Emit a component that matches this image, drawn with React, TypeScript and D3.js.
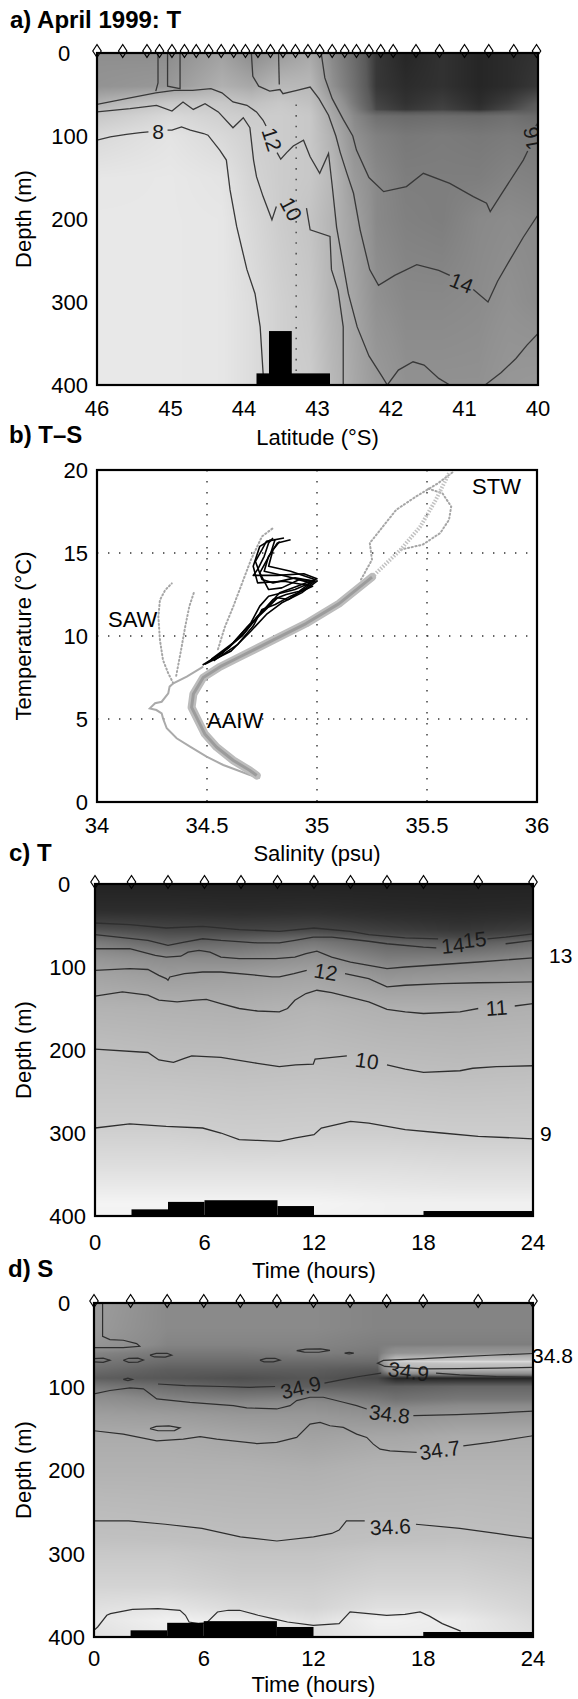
import React, { useMemo } from 'react';
import * as d3 from 'd3';

const FONT = "'Liberation Sans', Arial, Helvetica, sans-serif";

// ================= Panel a: April 1999 T section =================
const latTicksA = [46, 45, 44, 43, 42, 41, 40];
const depthTicks = [0, 100, 200, 300, 400];
const stationLatsA = [46.0, 45.65, 45.32, 45.15, 44.98, 44.81, 44.65, 44.48, 44.31, 44.14, 43.98, 43.81, 43.64, 43.47, 43.3, 43.13, 42.97, 42.8, 42.63, 42.47, 42.3, 42.14, 41.97, 41.66, 41.34, 41.0, 40.67, 40.33, 40.02];
const latNodesA = [46, 45, 44.3, 43.9, 43.5, 43.1, 42.8, 42.5, 42.2, 41.8, 41.3, 40.8, 40.4, 40.0];
const depthNodesA = [0, 40, 60, 68, 76, 100, 150, 200, 300, 400];
const tempGridA = [
  [14.1, 14.2, 13.1, 14.3, 13.5, 12.7, 14.3, 15.4, 16.6, 16.9, 16.7, 16.9, 16.8, 16.7],
  [13.9, 13.6, 12.2, 12.7, 11.7, 11.7, 14.0, 15.2, 16.6, 16.8, 16.7, 16.9, 16.8, 16.6],
  [12.2, 10.6, 10.6, 11.1, 10.6, 11.1, 13.1, 14.9, 16.4, 16.7, 16.5, 16.8, 16.5, 16.0],
  [11.3, 10.0, 10.3, 10.7, 10.4, 10.8, 12.9, 14.6, 16.3, 16.6, 16.4, 16.7, 16.3, 15.8],
  [10.6, 9.4, 10.0, 10.3, 10.3, 10.6, 12.7, 14.3, 15.2, 15.4, 15.3, 15.4, 15.2, 15.4],
  [9.4, 8.6, 9.4, 10.0, 10.3, 10.6, 12.2, 14.0, 14.6, 14.9, 14.8, 14.9, 14.8, 14.9],
  [8.4, 8.3, 8.6, 9.7, 10.3, 10.6, 11.7, 13.5, 14.3, 14.7, 14.7, 14.7, 14.5, 14.6],
  [8.3, 8.3, 8.4, 9.4, 10.3, 10.9, 12.0, 13.1, 14.3, 14.6, 14.7, 14.3, 14.2, 14.3],
  [8.3, 8.3, 8.4, 9.1, 10.0, 10.6, 12.0, 12.9, 14.0, 14.3, 14.3, 14.2, 14.0, 14.2],
  [8.3, 8.3, 8.4, 9.1, 10.0, 10.3, 11.7, 12.7, 13.5, 14.0, 14.0, 14.0, 13.7, 13.6],
];
const tempLevelsA = [8, 10, 12, 14, 16, 17];
const grayLevelsA = [236, 208, 180, 145, 90, 32];

const contourA8a = [[46.0, 105], [45.82, 101], [45.6, 98], [45.41, 96], [45.3, 95]];
const contourA8b = [[45.04, 93], [44.98, 93], [44.85, 89], [44.73, 93], [44.55, 97], [44.49, 99], [44.33, 117], [44.24, 129], [44.19, 165], [44.1, 209], [43.96, 261], [43.85, 290], [43.78, 330], [43.74, 386], [43.73, 400]];
const contourA10a = [[46.0, 71], [45.55, 67], [45.19, 63], [44.98, 70], [44.83, 59], [44.69, 68], [44.53, 61], [44.35, 71], [44.15, 90], [44.01, 78], [43.92, 90], [43.87, 129], [43.83, 149], [43.74, 173], [43.62, 201], [43.56, 185]];
const contourA10b = [[43.15, 187], [43.1, 213], [42.83, 221], [42.81, 261], [42.72, 286], [42.65, 330], [42.65, 400]];
const contourA12a = [[46.0, 62], [45.55, 54], [45.2, 48], [44.95, 45], [44.7, 45], [44.45, 43], [44.3, 48], [44.15, 59], [43.96, 63], [43.83, 71], [43.74, 81], [43.7, 88]];
const contourA12b = [[43.55, 120], [43.5, 128], [43.42, 120], [43.33, 112], [43.19, 105], [43.1, 125], [42.97, 145], [42.85, 121], [42.8, 160], [42.74, 210], [42.66, 250], [42.58, 290], [42.46, 330], [42.3, 365], [42.12, 390], [42.05, 400]];
const contourA14a = [[43.9, 0], [43.88, 28], [43.8, 40], [43.65, 46], [43.51, 44], [43.47, 49], [43.28, 45], [43.1, 41], [42.98, 55], [42.85, 75], [42.75, 100], [42.69, 120], [42.6, 145], [42.51, 169], [42.42, 213], [42.29, 261], [42.17, 280], [41.95, 268], [41.65, 255], [41.35, 262], [41.2, 268]];
const contourA14b = [[40.88, 285], [40.68, 300], [40.55, 275], [40.38, 249], [40.2, 222], [40.0, 195]];
const contourA16a = [[42.95, 0], [42.9, 30], [42.8, 55], [42.65, 80], [42.52, 100], [42.47, 117], [42.3, 150], [42.1, 167], [41.79, 161], [41.56, 145], [41.2, 157], [40.88, 173], [40.7, 181], [40.65, 191], [40.52, 173], [40.2, 129], [40.14, 118]];
const contourA16b = [[40.03, 88], [40.0, 84]];
const contourAFinger = [[45.17, 0], [45.17, 36], [45.2, 46]];
const contourAU = [[45.04, 0], [45.04, 40], [44.87, 43], [44.87, 0]];
const contourATongue = [[43.53, 0], [43.52, 38]];
const contourABump1 = [[42.05, 400], [41.9, 382], [41.7, 372], [41.55, 376], [41.35, 392], [41.2, 400]];
const contourABump2 = [[40.72, 400], [40.5, 385], [40.3, 368], [40.15, 352], [40.0, 338]];
const contourLabelsA = [
  { text: '8', lat: 45.17, depth: 95, rot: 0 },
  { text: '10', lat: 43.36, depth: 188, rot: 62 },
  { text: '12', lat: 43.62, depth: 104, rot: 72 },
  { text: '14', lat: 41.04, depth: 277, rot: 22 },
  { text: '16', lat: 40.08, depth: 103, rot: -100 },
];
const bathyA = [
  { from: 43.83, to: 42.83, depth: 386 },
  { from: 43.66, to: 43.35, depth: 335 },
];
const dottedLatA = 43.29;
const dottedDepthA = [62, 385];

// ================= Panel b: T-S =================
const salTicks = [34, 34.5, 35, 35.5, 36];
const tempTicks = [0, 5, 10, 15, 20];
const salGrid = [34.5, 35, 35.5];
const tempGrid = [5, 10, 15];
const tsMainDense = [[34.726, 1.6], [34.695, 1.9], [34.62, 2.5], [34.544, 3.3], [34.49, 4.1], [34.46, 4.9], [34.43, 5.7], [34.438, 6.5], [34.483, 7.5], [34.56, 8.15], [34.65, 8.75], [34.8, 9.75], [34.95, 10.75], [35.1, 11.95], [35.25, 13.55]];
const tsMainUpper = [[35.25, 13.55], [35.38, 15.2], [35.47, 16.6], [35.54, 18.2], [35.6, 19.8]];
const tsSawLoop = [[34.726, 1.6], [34.74, 1.45], [34.695, 1.63], [34.635, 1.93], [34.574, 2.23], [34.498, 2.73], [34.423, 3.33], [34.362, 3.84], [34.317, 4.44], [34.3, 5.04], [34.294, 5.34], [34.27, 5.54], [34.24, 5.64], [34.264, 5.95], [34.294, 6.04], [34.324, 6.55], [34.33, 6.95], [34.347, 7.15], [34.408, 7.55], [34.483, 8.15]];
const tsSawScatter1 = [[34.347, 7.15], [34.324, 7.75], [34.3, 8.55], [34.286, 9.76], [34.279, 11.16], [34.286, 12.17], [34.31, 12.77], [34.34, 13.17]];
const tsSawScatter2 = [[34.36, 7.6], [34.38, 9.0], [34.4, 10.5], [34.42, 11.8], [34.44, 12.6]];
const tsMidScatter = [[34.55, 9.2], [34.58, 10.5], [34.62, 11.8], [34.66, 13.2], [34.7, 14.6], [34.75, 16.0], [34.8, 16.5]];
const tsStwLeft = [[35.2, 13.4], [35.25, 14.6], [35.24, 15.6], [35.3, 16.6], [35.36, 17.6], [35.45, 18.4], [35.55, 19.2], [35.62, 19.9]];
const tsStwRight = [[35.38, 15.2], [35.48, 15.5], [35.56, 16.2], [35.6, 17.0], [35.61, 17.8], [35.57, 18.6], [35.5, 18.9]];
const tsBlack1 = [[34.48, 8.25], [34.57, 8.96], [34.67, 10.2], [34.73, 11.2], [34.79, 12.0], [34.83, 12.6], [34.91, 13.0], [35.0, 13.45], [34.94, 13.75], [34.82, 13.65], [34.71, 13.65], [34.73, 14.0], [34.76, 14.8], [34.78, 15.6], [34.8, 15.9]];
const tsBlack2 = [[34.5, 8.4], [34.6, 9.3], [34.68, 10.5], [34.76, 11.5], [34.82, 12.3], [34.87, 12.2], [34.95, 12.9], [34.99, 13.3], [34.9, 13.5], [34.8, 13.2], [34.75, 13.4], [34.72, 14.5], [34.75, 15.2], [34.77, 15.7], [34.85, 15.9]];
const tsBlack3 = [[34.52, 8.6], [34.62, 9.6], [34.7, 10.8], [34.74, 11.8], [34.78, 12.4], [34.9, 12.8], [34.97, 13.2], [34.86, 13.6], [34.76, 13.9], [34.78, 14.8], [34.82, 15.6], [34.88, 15.8]];
const tsBlack4 = [[34.55, 8.8], [34.66, 10.0], [34.72, 11.0], [34.8, 12.2], [34.86, 12.5], [34.92, 12.7], [34.99, 13.4], [34.88, 13.9], [34.78, 14.2], [34.8, 15.2], [34.83, 15.7]];
const tsBlack5 = [[34.49, 8.3], [34.61, 9.1], [34.7, 10.3], [34.77, 11.3], [34.84, 12.0], [34.93, 12.6], [35.0, 13.3], [34.92, 13.4], [34.84, 12.9], [34.78, 12.8], [34.74, 13.8], [34.79, 15.0], [34.81, 15.85]];
const tsBlack6 = [[34.53, 8.5], [34.64, 9.5], [34.71, 10.6], [34.75, 11.6], [34.81, 11.9], [34.88, 12.4], [34.98, 13.0], [34.85, 13.3], [34.73, 13.2], [34.71, 14.2], [34.74, 15.4], [34.79, 15.8]];
const waterMassLabels = [
  { text: 'STW', s: 35.705, t: 18.55 },
  { text: 'SAW', s: 34.05, t: 10.54 },
  { text: 'AAIW', s: 34.5, t: 4.46 },
];

// ================= Panels c, d: 24-h time series =================
const timeTicks = [0, 6, 12, 18, 24];
const castTimes = [0, 2, 4, 6, 8, 10, 12, 14, 16, 18, 21, 24];
const bathyCD = [
  { from: 2, to: 4, depth: 392 },
  { from: 4, to: 6, depth: 383 },
  { from: 6, to: 10, depth: 381 },
  { from: 10, to: 12, depth: 388 },
  { from: 18, to: 24, depth: 394 },
];

const timeNodesC = [0, 4, 8, 12, 16, 20, 24];
const depthNodesC = [0, 30, 55, 70, 90, 110, 150, 200, 250, 300, 340, 365, 385, 400];
const tempGridC = [
  [17, 17, 17, 17, 17, 17, 17],
  [16.3, 16.3, 16.4, 16.3, 16.5, 16.6, 16.5],
  [14.7, 15.0, 15.1, 15.0, 15.4, 15.7, 15.4],
  [13.5, 14.2, 14.0, 13.6, 14.2, 14.5, 14.0],
  [12.5, 12.9, 13.0, 12.6, 13.4, 13.3, 13.0],
  [11.8, 12.2, 12.0, 11.8, 12.6, 12.4, 12.3],
  [10.8, 10.9, 11.0, 10.7, 11.0, 11.1, 11.0],
  [10.0, 10.2, 10.25, 10.1, 10.3, 10.4, 10.3],
  [9.5, 9.5, 9.6, 9.55, 9.6, 9.7, 9.65],
  [8.95, 8.95, 9.05, 9.0, 9.0, 9.05, 9.05],
  [8.6, 8.6, 8.6, 8.6, 8.6, 8.65, 8.65],
  [8.3, 8.3, 8.3, 8.3, 8.35, 8.4, 8.4],
  [8.0, 8.0, 8.0, 8.0, 8.1, 8.1, 8.1],
  [8.05, 8.05, 8.05, 8.05, 8.1, 8.1, 8.1],
];
const tempLevelsC = [8, 8.5, 9, 10, 11, 12, 13, 14, 15, 16, 17];
const grayLevelsC = [244, 226, 206, 190, 176, 160, 138, 106, 70, 48, 34];

const contourC15a = [[0, 47], [1.9, 49], [3.9, 53], [5.9, 51], [7.9, 55], [10.1, 57], [12, 53], [14, 57], [15, 61], [17, 65], [18.8, 66]];
const contourC15b = [[21.5, 66], [22.5, 64], [24, 60]];
const contourC14a = [[0, 61], [2.9, 68], [4.0, 74], [4.9, 70], [5.9, 66], [6.9, 68], [8.9, 71], [10.1, 71], [10.95, 68], [11.96, 64], [12.97, 64], [14.99, 69], [16, 72], [18, 76], [18.7, 77]];
const contourC14b = [[22.5, 72], [24, 68]];
const contourC13 = [[0, 78], [1.9, 78], [3.3, 86], [3.9, 88], [4.7, 87], [5.1, 82], [5.7, 80], [6.3, 82], [6.9, 88], [7.9, 90], [9.9, 90], [10.95, 88], [11.56, 84], [12.16, 81], [12.97, 88], [14, 94], [15, 98], [16, 102], [17, 100], [19, 97], [21, 94], [24, 89]];
const contourC12a = [[0, 104], [1.9, 102], [2.9, 103], [3.5, 110], [3.9, 114], [4.0, 116], [4.1, 112], [4.9, 108], [5.9, 106], [6.9, 106], [8.9, 110], [9.7, 112], [10.1, 112], [10.9, 108], [11.6, 104]];
const contourC12b = [[13.7, 108], [15, 114], [16, 124], [17, 122], [19, 120], [21, 119], [24, 118]];
const contourC11a = [[0, 135], [1.5, 130], [2.9, 134], [3.5, 140], [4.5, 142], [5.5, 140], [6.1, 139], [6.9, 144], [7.9, 150], [8.9, 153], [10.1, 154], [10.55, 150], [10.95, 140], [11.56, 132], [12.16, 128], [12.97, 131], [15, 142], [16, 151], [17, 154], [18, 156], [20, 154], [21, 150]];
const contourC11b = [[23.0, 147], [24, 144]];
const contourC10a = [[0, 199], [2.9, 203], [3.5, 212], [4.3, 215], [4.9, 210], [5.3, 207], [6.9, 209], [8.9, 216], [10.1, 220], [11, 218], [11.96, 217], [12.06, 211], [13, 209], [13.8, 207]];
const contourC10b = [[16.0, 218], [17, 223], [18, 227], [20, 225], [20.7, 222], [22, 220], [24, 219]];
const contourC9 = [[0, 294], [1.9, 289], [3.9, 292], [5.9, 294], [6.9, 300], [7.9, 308], [8.9, 309], [10.1, 310], [11, 306], [12, 302], [12.4, 294], [14, 286], [15, 288], [17, 296], [19, 300], [21, 304], [24, 307]];
const contourLabelsC = [
  { text: '15', t: 20.8, depth: 67, rot: -6 },
  { text: '14', t: 19.6, depth: 74, rot: -6 },
  { text: '12', t: 12.65, depth: 106, rot: 10 },
  { text: '11', t: 22.0, depth: 149, rot: -4 },
  { text: '10', t: 14.9, depth: 213, rot: 8 },
];
const outsideLabelsC = [
  { text: '13', depth: 86, dx: 16 },
  { text: '9', depth: 300, dx: 7 },
];

const timeNodesD = [0, 4, 8, 12, 15.5, 16.5, 20, 24];
const depthNodesD = [0, 30, 50, 60, 70, 80, 90, 100, 115, 135, 160, 200, 250, 300, 340, 365, 380, 400];
const salGridD = [
  [34.78, 34.85, 34.85, 34.85, 34.86, 34.86, 34.86, 34.86],
  [34.79, 34.85, 34.85, 34.85, 34.86, 34.86, 34.86, 34.86],
  [34.81, 34.86, 34.86, 34.86, 34.87, 34.87, 34.87, 34.87],
  [34.86, 34.88, 34.88, 34.87, 34.88, 34.82, 34.8, 34.8],
  [34.88, 34.9, 34.9, 34.9, 34.9, 34.57, 34.55, 34.55],
  [34.9, 34.92, 34.92, 34.92, 34.93, 34.72, 34.7, 34.7],
  [34.92, 34.93, 34.94, 34.93, 34.95, 35.0, 35.0, 35.0],
  [34.88, 34.9, 34.92, 34.92, 34.92, 34.92, 34.91, 34.91],
  [34.83, 34.86, 34.87, 34.86, 34.88, 34.89, 34.88, 34.88],
  [34.77, 34.78, 34.8, 34.8, 34.82, 34.82, 34.8, 34.8],
  [34.72, 34.72, 34.74, 34.76, 34.74, 34.74, 34.72, 34.72],
  [34.69, 34.69, 34.69, 34.7, 34.68, 34.68, 34.68, 34.68],
  [34.63, 34.64, 34.65, 34.65, 34.64, 34.64, 34.63, 34.64],
  [34.58, 34.58, 34.59, 34.59, 34.58, 34.58, 34.58, 34.59],
  [34.56, 34.56, 34.57, 34.57, 34.56, 34.56, 34.56, 34.57],
  [34.54, 34.53, 34.55, 34.56, 34.54, 34.54, 34.54, 34.56],
  [34.53, 34.51, 34.52, 34.54, 34.51, 34.51, 34.52, 34.55],
  [34.54, 34.52, 34.52, 34.54, 34.52, 34.52, 34.52, 34.54],
];
const salLevelsD = [34.5, 34.55, 34.58, 34.6, 34.65, 34.7, 34.8, 34.85, 34.9, 34.95, 35.0];
const grayLevelsD = [246, 218, 200, 192, 185, 176, 152, 138, 108, 72, 36];

const contourD348Top = [[0.47, 0], [0.47, 40], [0.87, 43.8], [1.6, 44.6], [2.33, 48.6], [2.5, 51.8], [1.6, 53.4], [0, 53.4]];
const contourD348Streak = [[24, 60.5], [21.65, 62.6], [19.83, 64.6], [18.0, 66.6], [15.82, 68.7], [15.5, 72], [15.9, 76], [18, 79], [20, 78.5], [22, 78], [24, 77]];
const contourD349a = [[3.5, 97], [5, 99], [7, 100], [8.5, 101], [9.9, 100]];
const contourD349b = [[12.6, 96], [13.5, 92], [14.5, 88], [15.7, 84]];
const contourD349c = [[18.7, 84], [20, 86], [22, 88], [24, 89]];
const contourD348a = [[0, 108.8], [0.87, 104.8], [1.97, 101.6], [2.7, 102.8], [3.06, 108.8], [3.43, 114.8], [5.25, 118.9], [7.62, 122.9], [8.35, 125.7], [9.99, 126.9], [10.72, 122.9], [11.08, 116.9], [11.81, 112.9], [12.54, 112.9], [13.63, 118.9], [14.36, 122.9], [14.91, 126.9]];
const contourD348b = [[17.46, 134.9], [19.83, 133.7], [21.65, 132.2], [24, 129.5]];
const contourD347a = [[0, 153], [1.6, 157], [3.43, 165], [4.88, 163], [5.8, 160], [6.71, 163], [8.9, 168.3], [9.99, 167], [11.08, 161], [11.81, 145], [12.36, 143], [12.9, 147], [13.63, 149], [14.36, 157], [14.91, 161], [15.27, 169], [15.64, 175], [16.18, 177], [17.64, 179]];
const contourD347b = [[20.19, 171], [21.65, 167], [24, 159]];
const contourD346a = [[0, 261], [1.9, 261], [3.9, 265], [5.9, 270], [8, 280], [10, 285], [12, 280], [13, 276], [13.4, 272], [13.8, 261], [14.8, 261]];
const contourD346b = [[17.6, 265], [20, 270], [22, 276], [24, 282]];
const contourDBottom = [[0, 392], [0.2, 388], [0.7, 374], [0.9, 372], [2.1, 367], [3.5, 366], [4.7, 368], [5.0, 374], [5.2, 382], [5.7, 384], [6.15, 383], [6.75, 370], [7.35, 368], [7.96, 368], [8.97, 374], [9.77, 378], [10.58, 382], [11.99, 386], [13.4, 384], [14.0, 370], [15.0, 372], [16.0, 374], [17.0, 373], [17.83, 370], [18.34, 375], [19.04, 384], [20.05, 393]];
const loopD1 = [[1.6, 68.5], [1.9, 66.2], [2.4, 66], [2.7, 68.2], [2.4, 70.8], [1.9, 71], [1.6, 68.5]];
const loopD2 = [[3.06, 62.5], [3.4, 60.3], [4.0, 60.2], [4.25, 62.4], [3.9, 64.8], [3.3, 64.6], [3.06, 62.5]];
const loopD3 = [[9.07, 68.5], [9.4, 66.3], [9.9, 66.2], [10.17, 68.4], [9.8, 70.6], [9.3, 70.5], [9.07, 68.5]];
const loopD4 = [[11.08, 57], [11.6, 55.2], [12.4, 55], [12.9, 56.8], [12.3, 59], [11.5, 58.8], [11.08, 57]];
const loopD5 = [[13.7, 60], [13.95, 59], [14.2, 60], [13.95, 61], [13.7, 60]];
const loopD6 = [[1.6, 91.5], [1.85, 90], [2.1, 91.5], [1.85, 93], [1.6, 91.5]];
const loopD7 = [[0, 66.5], [0.5, 66], [0.87, 68.5], [0.5, 71], [0, 70.5]];
const loopD8 = [[3.06, 150.5], [3.4, 147.8], [4.1, 147.2], [4.7, 149.5], [4.4, 152.8], [3.5, 153], [3.06, 150.5]];
const contourLabelsD = [
  { text: '34.9', t: 11.3, depth: 101, rot: -14 },
  { text: '34.9', t: 17.2, depth: 82, rot: 8 },
  { text: '34.8', t: 16.15, depth: 133, rot: 7 },
  { text: '34.7', t: 18.9, depth: 176, rot: -8 },
  { text: '34.6', t: 16.2, depth: 268, rot: -3 },
];
const outsideLabelsD = [{ text: '34.8', depth: 62, dx: -1 }];

// ================= helpers =================
function segIndex(arr: number[], v: number): [number, number] {
  let k = 0;
  while (k < arr.length - 2 && v > arr[k + 1]) k++;
  const t = Math.max(0, Math.min(1, (v - arr[k]) / (arr[k + 1] - arr[k])));
  return [k, t];
}

function makeField(xNodes: number[], yNodes: number[], grid: number[][], xs: any, ys: any, levels: number[], grays: number[], x0: number, y0: number, w: number, h: number): string {
  if (typeof document === 'undefined') return '';
  const c = document.createElement('canvas');
  c.width = w;
  c.height = h;
  const ctx = c.getContext('2d');
  if (!ctx) return '';
  const img = ctx.createImageData(w, h);
  let px = xNodes.map((v) => xs(v) - x0);
  let g2 = grid;
  if (px[0] > px[px.length - 1]) {
    px = px.slice().reverse();
    g2 = grid.map((r) => r.slice().reverse());
  }
  const py = yNodes.map((v) => ys(v) - y0);
  const gray = d3.scaleLinear().domain(levels).range(grays).clamp(true);
  for (let j = 0; j < h; j++) {
    const [r, ty] = segIndex(py, j + 0.5);
    for (let i = 0; i < w; i++) {
      const [cI, tx] = segIndex(px, i + 0.5);
      const v00 = g2[r][cI], v01 = g2[r][cI + 1], v10 = g2[r + 1][cI], v11 = g2[r + 1][cI + 1];
      const v = (v00 * (1 - tx) + v01 * tx) * (1 - ty) + (v10 * (1 - tx) + v11 * tx) * ty;
      const g = Math.round(gray(v));
      const o = (j * w + i) * 4;
      img.data[o] = g;
      img.data[o + 1] = g;
      img.data[o + 2] = g;
      img.data[o + 3] = 255;
    }
  }
  ctx.putImageData(img, 0, 0);
  return c.toDataURL();
}

const diamondPath = (x: number, y: number) => `M${x},${y - 6.5}L${x + 4.2},${y}L${x},${y + 6.5}L${x - 4.2},${y}Z`;

// ================= component =================
export default function App() {
  const A = { x0: 97, x1: 538, y0: 53, y1: 385 };
  const B = { x0: 97, x1: 537, y0: 470, y1: 802 };
  const C = { x0: 95, x1: 533, y0: 884, y1: 1216 };
  const D = { x0: 94, x1: 533, y0: 1303, y1: 1637 };

  const xA = d3.scaleLinear().domain([46, 40]).range([A.x0, A.x1]);
  const yA = d3.scaleLinear().domain([0, 400]).range([A.y0, A.y1]);
  const xB = d3.scaleLinear().domain([34, 36]).range([B.x0, B.x1]);
  const yB = d3.scaleLinear().domain([0, 20]).range([B.y1, B.y0]);
  const xC = d3.scaleLinear().domain([0, 24]).range([C.x0, C.x1]);
  const yC = d3.scaleLinear().domain([0, 400]).range([C.y0, C.y1]);
  const xD = d3.scaleLinear().domain([0, 24]).range([D.x0, D.x1]);
  const yD = d3.scaleLinear().domain([0, 400]).range([D.y0, D.y1]);

  const fields = useMemo(() => ({
    a: makeField(latNodesA, depthNodesA, tempGridA, xA, yA, tempLevelsA, grayLevelsA, A.x0, A.y0, A.x1 - A.x0, A.y1 - A.y0),
    c: makeField(timeNodesC, depthNodesC, tempGridC, xC, yC, tempLevelsC, grayLevelsC, C.x0, C.y0, C.x1 - C.x0, C.y1 - C.y0),
    d: makeField(timeNodesD, depthNodesD, salGridD, xD, yD, salLevelsD, grayLevelsD, D.x0, D.y0, D.x1 - D.x0, D.y1 - D.y0),
  }), []);

  const lineA = d3.line<number[]>().x((p) => xA(p[0])).y((p) => yA(p[1]));
  const lineB = d3.line<number[]>().x((p) => xB(p[0])).y((p) => yB(p[1]));
  const lineC = d3.line<number[]>().x((p) => xC(p[0])).y((p) => yC(p[1]));
  const lineD = d3.line<number[]>().x((p) => xD(p[0])).y((p) => yD(p[1]));

  const contoursA = [contourA8a, contourA8b, contourA10a, contourA10b, contourA12a, contourA12b, contourA14a, contourA14b, contourA16a, contourA16b, contourAFinger, contourAU, contourATongue, contourABump1, contourABump2];
  const contoursC = [contourC15a, contourC15b, contourC14a, contourC14b, contourC13, contourC12a, contourC12b, contourC11a, contourC11b, contourC10a, contourC10b, contourC9];
  const contoursD = [contourD348Top, contourD348Streak, contourD349a, contourD349b, contourD349c, contourD348a, contourD348b, contourD347a, contourD347b, contourD346a, contourD346b, contourDBottom, loopD1, loopD2, loopD3, loopD4, loopD5, loopD6, loopD7, loopD8];

  const tickFs = 22;
  const labelFs = 21;

  const yTickLabels = (ys: any, rightX: number) =>
    depthTicks.map((d) => (
      <text key={'yt' + d} x={d === 0 ? 64 : rightX} y={ys(d) + 8} fontSize={tickFs} textAnchor={d === 0 ? 'middle' : 'end'}>{d}</text>
    ));

  const frame = (P: any) => <rect x={P.x0} y={P.y0} width={P.x1 - P.x0} height={P.y1 - P.y0} fill="none" stroke="#000" strokeWidth={2.2} />;

  return (
    <div style={{ position: 'absolute', left: 0, top: 0, width: 578, height: 1699, background: '#fff' }}>
      <svg width={578} height={1699} style={{ display: 'block' }} fontFamily={FONT}>
        <defs>
          <clipPath id="clipA"><rect x={A.x0} y={A.y0} width={A.x1 - A.x0} height={A.y1 - A.y0} /></clipPath>
          <clipPath id="clipB"><rect x={B.x0} y={B.y0} width={B.x1 - B.x0} height={B.y1 - B.y0} /></clipPath>
          <clipPath id="clipC"><rect x={C.x0} y={C.y0} width={C.x1 - C.x0} height={C.y1 - C.y0} /></clipPath>
          <clipPath id="clipD"><rect x={D.x0} y={D.y0} width={D.x1 - D.x0} height={D.y1 - D.y0} /></clipPath>
        </defs>
        <rect x={0} y={0} width={578} height={1699} fill="#fff" />

        {/* ============ Panel a ============ */}
        <text x={10} y={28} fontSize={24} fontWeight="bold">a) April 1999: T</text>
        <image href={fields.a} x={A.x0} y={A.y0} width={A.x1 - A.x0} height={A.y1 - A.y0} preserveAspectRatio="none" />
        <g clipPath="url(#clipA)">
          {contoursA.map((c, i) => (
            <path key={'ca' + i} d={lineA(c) || ''} fill="none" stroke="#383838" strokeWidth={1.3} />
          ))}
          <line x1={xA(dottedLatA)} x2={xA(dottedLatA)} y1={yA(dottedDepthA[0])} y2={yA(dottedDepthA[1])} stroke="#555" strokeWidth={1.6} strokeDasharray="1.6 9" />
          {bathyA.map((b, i) => (
            <rect key={'ba' + i} x={Math.min(xA(b.from), xA(b.to))} y={yA(b.depth)} width={Math.abs(xA(b.to) - xA(b.from))} height={yA(400) - yA(b.depth)} fill="#000" />
          ))}
          {contourLabelsA.map((l, i) => (
            <text key={'la' + i} transform={`translate(${xA(l.lat)},${yA(l.depth)}) rotate(${l.rot})`} fontSize={labelFs} textAnchor="middle" dominantBaseline="central" fill="#1a1a1a">{l.text}</text>
          ))}
        </g>
        {frame(A)}
        {stationLatsA.map((s, i) => (
          <path key={'sa' + i} d={diamondPath(xA(s), A.y0 - 2)} fill="none" stroke="#000" strokeWidth={1.2} />
        ))}
        {yTickLabels(yA, A.x0 - 9)}
        {latTicksA.map((t) => (
          <text key={'xa' + t} x={xA(t)} y={416} fontSize={tickFs} textAnchor="middle">{t}</text>
        ))}
        <text x={(A.x0 + A.x1) / 2} y={445} fontSize={tickFs} textAnchor="middle">Latitude (°S)</text>
        <text transform={`translate(31,${(A.y0 + A.y1) / 2}) rotate(-90)`} fontSize={tickFs} textAnchor="middle">Depth (m)</text>

        {/* ============ Panel b ============ */}
        <text x={9} y={443} fontSize={24} fontWeight="bold">b) T–S</text>
        <g clipPath="url(#clipB)">
          {salGrid.map((s) => (
            <line key={'gs' + s} x1={xB(s)} x2={xB(s)} y1={B.y0} y2={B.y1} stroke="#333" strokeWidth={1.4} strokeDasharray="1.4 9.6" />
          ))}
          {tempGrid.map((t) => (
            <line key={'gt' + t} x1={B.x0} x2={B.x1} y1={yB(t)} y2={yB(t)} stroke="#333" strokeWidth={1.4} strokeDasharray="1.4 9.6" />
          ))}
          {[tsSawScatter1, tsSawScatter2, tsMidScatter, tsStwLeft, tsStwRight].map((c, i) => (
            <path key={'sc' + i} d={lineB(c) || ''} fill="none" stroke="#a6a6a6" strokeWidth={2} strokeDasharray="1.2 2.6" strokeLinecap="round" />
          ))}
          <path d={lineB(tsMainUpper) || ''} fill="none" stroke="#c2c2c2" strokeWidth={4} strokeDasharray="1.5 1.5" />
          <path d={lineB(tsSawLoop) || ''} fill="none" stroke="#aaaaaa" strokeWidth={2} />
          <path d={lineB(tsMainDense) || ''} fill="none" stroke="#bcbcbc" strokeWidth={8} strokeLinejoin="round" strokeLinecap="round" />
          <path d={lineB(tsMainDense) || ''} fill="none" stroke="#9c9c9c" strokeWidth={3} strokeLinejoin="round" />
          {[tsBlack1, tsBlack2, tsBlack3, tsBlack4, tsBlack5, tsBlack6].map((c, i) => (
            <path key={'bk' + i} d={lineB(c) || ''} fill="none" stroke="#000" strokeWidth={1.6} strokeLinejoin="round" />
          ))}
        </g>
        {frame(B)}
        {waterMassLabels.map((l) => (
          <text key={l.text} x={xB(l.s)} y={yB(l.t)} fontSize={tickFs}>{l.text}</text>
        ))}
        {tempTicks.map((t) => (
          <text key={'yb' + t} x={B.x0 - 9} y={yB(t) + 8} fontSize={tickFs} textAnchor="end">{t}</text>
        ))}
        {salTicks.map((s) => (
          <text key={'xb' + s} x={xB(s)} y={833} fontSize={tickFs} textAnchor="middle">{s}</text>
        ))}
        <text x={(B.x0 + B.x1) / 2} y={861} fontSize={tickFs} textAnchor="middle">Salinity (psu)</text>
        <text transform={`translate(31,${(B.y0 + B.y1) / 2}) rotate(-90)`} fontSize={tickFs} textAnchor="middle">Temperature (°C)</text>

        {/* ============ Panel c ============ */}
        <text x={9} y={861} fontSize={24} fontWeight="bold">c) T</text>
        <image href={fields.c} x={C.x0} y={C.y0} width={C.x1 - C.x0} height={C.y1 - C.y0} preserveAspectRatio="none" />
        <g clipPath="url(#clipC)">
          {contoursC.map((c, i) => (
            <path key={'cc' + i} d={lineC(c) || ''} fill="none" stroke="#2e2e2e" strokeWidth={1.3} />
          ))}
          {bathyCD.map((b, i) => (
            <rect key={'bc' + i} x={xC(b.from)} y={yC(b.depth)} width={xC(b.to) - xC(b.from)} height={yC(400) - yC(b.depth)} fill="#000" />
          ))}
          {contourLabelsC.map((l, i) => (
            <text key={'lc' + i} transform={`translate(${xC(l.t)},${yC(l.depth)}) rotate(${l.rot})`} fontSize={labelFs} textAnchor="middle" dominantBaseline="central" fill="#1a1a1a">{l.text}</text>
          ))}
        </g>
        {frame(C)}
        {outsideLabelsC.map((l) => (
          <text key={'oc' + l.text} x={C.x1 + l.dx} y={yC(l.depth) + 8} fontSize={labelFs}>{l.text}</text>
        ))}
        {castTimes.map((t, i) => (
          <path key={'dc' + i} d={diamondPath(xC(t), C.y0 - 2)} fill="none" stroke="#000" strokeWidth={1.2} />
        ))}
        {yTickLabels(yC, C.x0 - 9)}
        {timeTicks.map((t) => (
          <text key={'xc' + t} x={xC(t)} y={1250} fontSize={tickFs} textAnchor="middle">{t}</text>
        ))}
        <text x={(C.x0 + C.x1) / 2} y={1278} fontSize={tickFs} textAnchor="middle">Time (hours)</text>
        <text transform={`translate(31,${(C.y0 + C.y1) / 2}) rotate(-90)`} fontSize={tickFs} textAnchor="middle">Depth (m)</text>

        {/* ============ Panel d ============ */}
        <text x={8} y={1277} fontSize={24} fontWeight="bold">d) S</text>
        <image href={fields.d} x={D.x0} y={D.y0} width={D.x1 - D.x0} height={D.y1 - D.y0} preserveAspectRatio="none" />
        <g clipPath="url(#clipD)">
          {contoursD.map((c, i) => (
            <path key={'cd' + i} d={lineD(c) || ''} fill="none" stroke="#2e2e2e" strokeWidth={1.2} />
          ))}
          {bathyCD.map((b, i) => (
            <rect key={'bd' + i} x={xD(b.from)} y={yD(b.depth)} width={xD(b.to) - xD(b.from)} height={yD(400) - yD(b.depth)} fill="#000" />
          ))}
          {contourLabelsD.map((l, i) => (
            <text key={'ld' + i} transform={`translate(${xD(l.t)},${yD(l.depth)}) rotate(${l.rot})`} fontSize={labelFs} textAnchor="middle" dominantBaseline="central" fill="#1a1a1a">{l.text}</text>
          ))}
        </g>
        {frame(D)}
        {outsideLabelsD.map((l) => (
          <text key={'od' + l.text} x={D.x1 + l.dx} y={yD(l.depth) + 8} fontSize={labelFs}>{l.text}</text>
        ))}
        {castTimes.map((t, i) => (
          <path key={'dd' + i} d={diamondPath(xD(t), D.y0 - 2)} fill="none" stroke="#000" strokeWidth={1.2} />
        ))}
        {yTickLabels(yD, D.x0 - 9)}
        {timeTicks.map((t) => (
          <text key={'xd' + t} x={xD(t)} y={1666} fontSize={tickFs} textAnchor="middle">{t}</text>
        ))}
        <text x={(D.x0 + D.x1) / 2} y={1692} fontSize={tickFs} textAnchor="middle">Time (hours)</text>
        <text transform={`translate(31,${(D.y0 + D.y1) / 2}) rotate(-90)`} fontSize={tickFs} textAnchor="middle">Depth (m)</text>
      </svg>
    </div>
  );
}
